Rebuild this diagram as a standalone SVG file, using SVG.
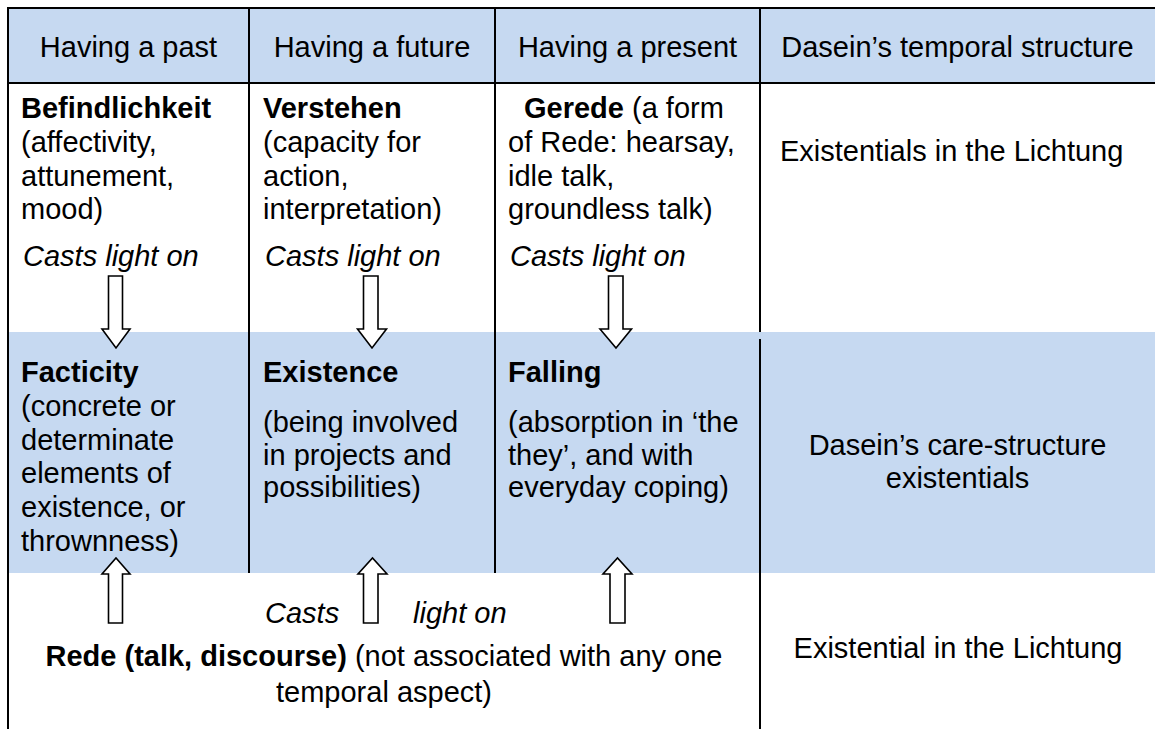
<svg xmlns="http://www.w3.org/2000/svg" width="1155" height="729" viewBox="0 0 1155 729">
<style>
text{font-family:"Liberation Sans",Arial,sans-serif;font-size:29px;fill:#000}
.b{font-weight:bold}
.i{font-style:italic}
.m{text-anchor:middle}
.fill{fill:#c6d9f1}
.ln{stroke:#000;stroke-width:2;fill:none}
.arr{fill:#fff;stroke:#000;stroke-width:1.6;stroke-linejoin:miter}
</style>
<rect width="1155" height="729" fill="#fff"/>
<g id="backgrounds">
<rect class="fill" x="8" y="8" width="1147" height="75"/>
<rect class="fill" x="8" y="332" width="1147" height="241"/>
</g>
<g id="grid">
<line class="ln" x1="7" y1="8" x2="1155" y2="8"/>
<line class="ln" x1="8" y1="7" x2="8" y2="729"/>
<line class="ln" x1="8" y1="83" x2="1155" y2="83"/>
<line class="ln" x1="249" y1="8" x2="249" y2="573"/>
<line class="ln" x1="495" y1="8" x2="495" y2="573"/>
<line class="ln" x1="760" y1="8" x2="760" y2="332"/>
<line class="ln" x1="760" y1="339" x2="760" y2="729"/>
</g>
<g id="header">
<text class="m" x="128.5" y="57">Having a past</text>
<text class="m" x="372" y="57">Having a future</text>
<text class="m" x="627.5" y="57">Having a present</text>
<text class="m" x="957.5" y="57">Dasein’s temporal structure</text>
</g>
<g id="befindlichkeit">
<text x="21" y="118" class="b">Befindlichkeit</text>
<text x="21" y="152">(affectivity,</text>
<text x="21" y="186">attunement,</text>
<text x="21" y="219">mood)</text>
<text x="23" y="266" class="i">Casts light on</text>
</g>
<g id="verstehen">
<text x="263" y="118" class="b">Verstehen</text>
<text x="263" y="152">(capacity for</text>
<text x="263" y="186">action,</text>
<text x="263" y="219">interpretation)</text>
<text x="265" y="266" class="i">Casts light on</text>
</g>
<g id="gerede">
<text x="524" y="118"><tspan class="b">Gerede</tspan> (a form</text>
<text x="508" y="152">of Rede: hearsay,</text>
<text x="508" y="186">idle talk,</text>
<text x="508" y="219">groundless talk)</text>
<text x="510" y="266" class="i">Casts light on</text>
</g>
<g id="lichtung-top">
<text x="780" y="161">Existentials in the Lichtung</text>
</g>
<g id="facticity">
<text x="21" y="382" class="b">Facticity</text>
<text x="21" y="416">(concrete or</text>
<text x="21" y="450">determinate</text>
<text x="21" y="483">elements of</text>
<text x="21" y="517">existence, or</text>
<text x="21" y="551">thrownness)</text>
</g>
<g id="existence">
<text x="263" y="382" class="b">Existence</text>
<text x="263" y="432">(being involved</text>
<text x="263" y="465">in projects and</text>
<text x="263" y="497">possibilities)</text>
</g>
<g id="falling">
<text x="508" y="382" class="b">Falling</text>
<text x="508" y="432">(absorption in ‘the</text>
<text x="508" y="465">they’, and with</text>
<text x="508" y="497">everyday coping)</text>
</g>
<g id="care-structure">
<text class="m" x="957.5" y="455">Dasein’s care-structure</text>
<text class="m" x="957.5" y="488">existentials</text>
</g>
<g id="rede">
<text x="265" y="623" class="i">Casts</text>
<text x="413" y="623" class="i">light on</text>
<text class="m" x="384" y="666"><tspan class="b">Rede (talk, discourse)</tspan> (not associated with any one</text>
<text class="m" x="384" y="702">temporal aspect)</text>
</g>
<g id="lichtung-bottom">
<text class="m" x="958" y="658">Existential in the Lichtung</text>
</g>
<g id="connectors">
<path class="arr" d="M108.5,276 H122.5 V329 H130 L116,348 L102,329 H108.5 Z"/>
<path class="arr" d="M363.5,276 H378 V329 H386.5 L372,348 L357.5,329 H363.5 Z"/>
<path class="arr" d="M608.5,276 H623 V329 H631.5 L616,348 L600,329 H608.5 Z"/>
<path class="arr" d="M108.5,623 H122.5 V574 H130 L116,558 L102,574 H108.5 Z"/>
<path class="arr" d="M363.5,623 H378 V574 H387 L372.5,558 L358,574 H363.5 Z"/>
<path class="arr" d="M610,623 H625 V574 H632 L617.5,558 L603,574 H610 Z"/>
</g>
</svg>
